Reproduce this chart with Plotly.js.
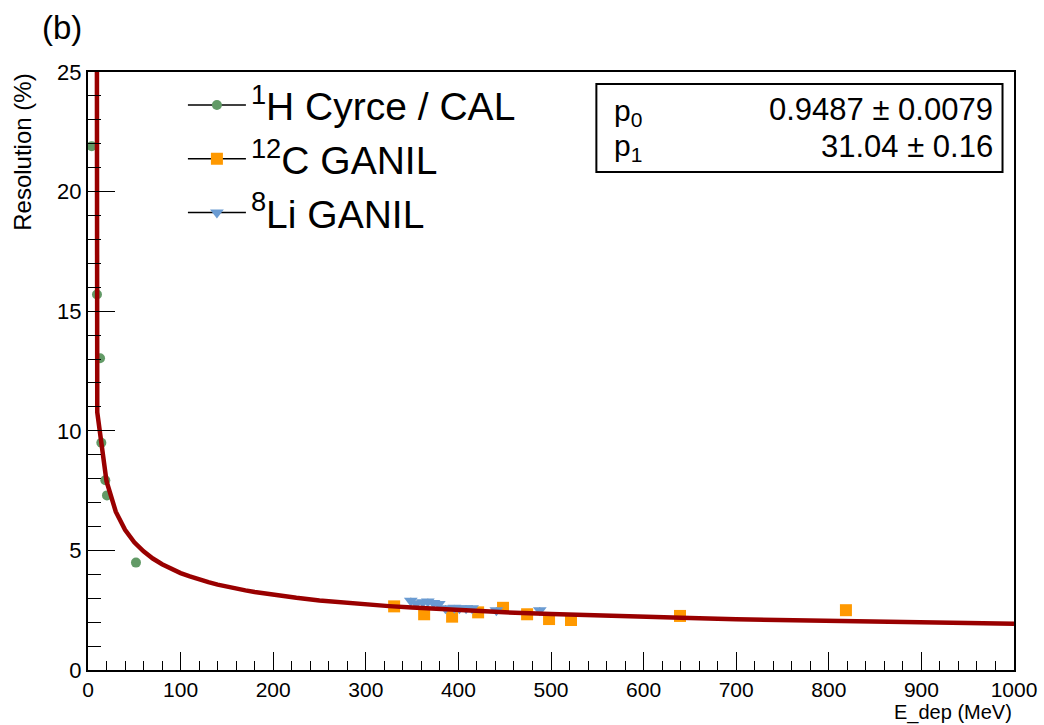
<!DOCTYPE html>
<html>
<head>
<meta charset="utf-8">
<script src="https://cdn.plot.ly/plotly-3.0.1.min.js"></script>
<style>html,body{margin:0;padding:0;background:#fff;}#chart{width:1044px;height:725px;}</style>
</head>
<body>
<div id="chart"></div>
<script>
// 1H Cyrce / CAL
const hE = [4.0, 9.7, 13.0, 14.4, 18.7, 20.5, 51.8];
const hR = [21.9, 15.7, 13.03, 9.5, 7.93, 7.3, 4.49];
// 12C GANIL
const cE = [330.6, 363.0, 393.2, 421.3, 448.2, 474.2, 497.9, 521.6, 639.3, 818.5];
const cR = [2.66, 2.33, 2.23, 2.41, 2.6, 2.33, 2.13, 2.09, 2.26, 2.50];
const cErr = [0.12, 0.12, 0.12, 0.12, 0.12, 0.12, 0.12, 0.12, 0.12, 0.12];
// 8Li GANIL
const liE = [348.6, 354.5, 361.6, 367.0, 373.1, 378.8, 386.0, 395.7, 401.1, 408.3, 414.8, 441.0, 487.9];
const liR = [2.90, 2.78, 2.83, 2.86, 2.80, 2.76, 2.58, 2.60, 2.58, 2.58, 2.58, 2.50, 2.50];
const liErr = [0.12, 0.12, 0.12, 0.12, 0.12, 0.12, 0.12, 0.12, 0.12, 0.12, 0.12, 0.12, 0.12];
// Fit curve
const fitE = [9.6, 10, 20, 30, 40, 50, 60, 70, 80, 90, 100, 110, 120, 130, 140, 150, 160, 170, 180, 190, 200, 225, 250, 275, 300, 325, 350, 375, 400, 450, 500, 550, 600, 650, 700, 750, 800, 850, 900, 950, 1000];
const fitR = [26, 10.77, 7.89, 6.62, 5.86, 5.34, 4.96, 4.66, 4.42, 4.22, 4.05, 3.91, 3.78, 3.67, 3.57, 3.48, 3.40, 3.33, 3.26, 3.20, 3.14, 3.02, 2.91, 2.82, 2.74, 2.67, 2.61, 2.55, 2.50, 2.41, 2.34, 2.27, 2.22, 2.17, 2.12, 2.08, 2.05, 2.01, 1.98, 1.96, 1.93];
// Labels
const seriesNames = ['<sup>1</sup>H Cyrce / CAL', '<sup>12</sup>C GANIL', '<sup>8</sup>Li GANIL'];
const statNames = ['p<sub>0</sub>', 'p<sub>1</sub>'];
const statValues = ['0.9487 ± 0.0079', '31.04 ± 0.16'];

const green = '#629a66', orange = '#ff9900', blue = '#6a9bd2', red = '#990000';
const FONT = 'Liberation Sans, Arial, Helvetica, sans-serif';

const traces = [
  {x: hE, y: hR, mode: 'markers', type: 'scatter', showlegend: false,
   marker: {color: green, size: 10, symbol: 'circle'}},
  {x: cE, y: cR, mode: 'markers', type: 'scatter', showlegend: false,
   error_y: {type: 'data', array: cErr, visible: true, color: '#888', thickness: 1, width: 0},
   marker: {color: orange, size: 12, symbol: 'square'}},
  {x: liE, y: liR, mode: 'markers', type: 'scatter', showlegend: false,
   error_y: {type: 'data', array: liErr, visible: true, color: '#555', thickness: 1, width: 0},
   marker: {color: blue, size: 12, symbol: 'triangle-down'}},
  {x: fitE, y: fitR, mode: 'lines', type: 'scatter', showlegend: false,
   line: {color: red, width: 4.5}},
  // legend entries
  {x: [null], y: [null], mode: 'lines+markers', name: seriesNames[0], line: {color: '#000', width: 1.5}, marker: {color: green, size: 10, symbol: 'circle'}},
  {x: [null], y: [null], mode: 'lines+markers', name: seriesNames[1], line: {color: '#000', width: 1.5}, marker: {color: orange, size: 12, symbol: 'square'}},
  {x: [null], y: [null], mode: 'lines+markers', name: seriesNames[2], line: {color: '#000', width: 1.5}, marker: {color: blue, size: 12, symbol: 'triangle-down'}}
];

const annotations = [
  {text: '(b)', xref: 'paper', yref: 'paper', x: -0.028, y: 1.075, xanchor: 'center', yanchor: 'middle', showarrow: false, font: {family: FONT, size: 33, color: '#000'}},
  {text: 'Resolution (%)', xref: 'paper', yref: 'paper', x: -0.071, y: 1, xanchor: 'center', yanchor: 'top', textangle: -90, showarrow: false, font: {family: FONT, size: 24, color: '#000'}},
  {text: 'E_dep (MeV)', xref: 'paper', yref: 'paper', x: 1, y: -0.071, xanchor: 'right', yanchor: 'middle', showarrow: false, font: {family: FONT, size: 20, color: '#000'}},
  {text: statNames[0], xref: 'paper', yref: 'paper', x: 0.5656, y: 0.933, xanchor: 'left', yanchor: 'middle', showarrow: false, font: {family: FONT, size: 30, color: '#000'}},
  {text: statNames[1], xref: 'paper', yref: 'paper', x: 0.5656, y: 0.873, xanchor: 'left', yanchor: 'middle', showarrow: false, font: {family: FONT, size: 30, color: '#000'}},
  {text: statValues[0], xref: 'paper', yref: 'paper', x: 0.979, y: 0.938, xanchor: 'right', yanchor: 'middle', showarrow: false, font: {family: FONT, size: 31, color: '#000'}},
  {text: statValues[1], xref: 'paper', yref: 'paper', x: 0.979, y: 0.876, xanchor: 'right', yanchor: 'middle', showarrow: false, font: {family: FONT, size: 31, color: '#000'}}
];

const layout = {
  width: 1044, height: 725,
  margin: {l: 88, r: 29.5, t: 72, b: 55},
  paper_bgcolor: '#fff', plot_bgcolor: '#fff',
  font: {family: FONT, color: '#000'},
  xaxis: {range: [0, 1000], dtick: 100, tick0: 0, ticks: 'inside', ticklen: 18, tickwidth: 1, tickcolor: '#000',
          minor: {dtick: 20, ticks: 'inside', ticklen: 9, tickcolor: '#000', showgrid: false},
          showline: true, linecolor: '#000', linewidth: 2, mirror: true, showgrid: false, zeroline: false,
          tickfont: {family: FONT, size: 21, color: '#000'}},
  yaxis: {range: [0, 25], dtick: 5, tick0: 0, ticks: 'inside', ticklen: 27, tickwidth: 1, tickcolor: '#000',
          minor: {dtick: 1, ticks: 'inside', ticklen: 13, tickcolor: '#000', showgrid: false},
          showline: true, linecolor: '#000', linewidth: 2, mirror: true, showgrid: false, zeroline: false,
          tickfont: {family: FONT, size: 22, color: '#000'}},
  showlegend: true,
  legend: {x: 0.1025, y: 0.998, xanchor: 'left', yanchor: 'top', bgcolor: 'rgba(0,0,0,0)', borderwidth: 0,
           font: {family: FONT, size: 39, color: '#000'}, tracegroupgap: 0, itemwidth: 58},
  shapes: [
    {type: 'rect', xref: 'paper', yref: 'paper', x0: 0.549, x1: 0.9876, y0: 0.8328, y1: 0.98, line: {color: '#000', width: 2}, fillcolor: 'rgba(0,0,0,0)'}
  ],
  annotations: annotations
};

Plotly.newPlot('chart', traces, layout, {displayModeBar: false, staticPlot: true});
</script>
</body>
</html>
